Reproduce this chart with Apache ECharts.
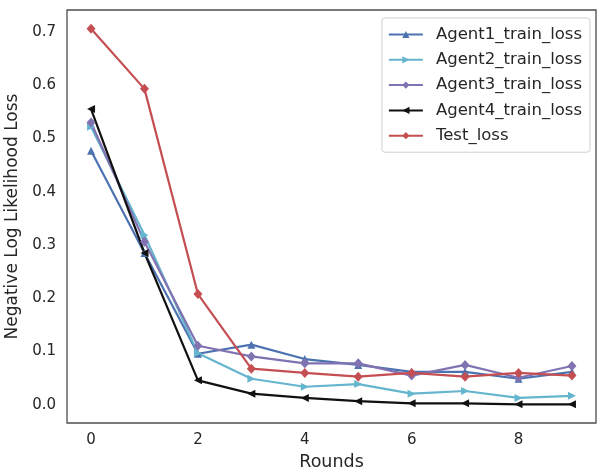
<!DOCTYPE html>
<html><head><meta charset="utf-8">
<script src="https://cdn.jsdelivr.net/npm/echarts@6/dist/echarts.min.js"></script>
<style>html,body{margin:0;padding:0;background:#fff}#c{width:597px;height:469px}</style>
</head><body><div id="c"></div>
<script>
const rounds = [0,1,2,3,4,5,6,7,8,9];
const agent1 = [0.477,0.285,0.096,0.113,0.086,0.075,0.062,0.062,0.049,0.062];
const agent2 = [0.522,0.319,0.097,0.049,0.034,0.039,0.021,0.026,0.013,0.017];
const agent3 = [0.530,0.306,0.111,0.091,0.078,0.078,0.055,0.075,0.051,0.073];
const agent4 = [0.555,0.285,0.046,0.021,0.013,0.007,0.003,0.003,0.001,0.001];
const testLoss = [0.706,0.593,0.208,0.068,0.060,0.053,0.060,0.053,0.060,0.055];
const xTicks = [0,2,4,6,8];
const yTicks = [0,0.1,0.2,0.3,0.4,0.5,0.6,0.7];
const names = ['Agent1_train_loss','Agent2_train_loss','Agent3_train_loss','Agent4_train_loss','Test_loss'];

const chart = echarts.init(document.getElementById('c'));
const font = 'DejaVu Sans';
function mk(name, data, color, symbol, rot, size){
  return {name, type:'line', data: rounds.map((r,i)=>[r,data[i]]),
    lineStyle:{color, width:2.2}, itemStyle:{color},
    symbol, symbolRotate:rot, symbolSize:size, showSymbol:true, animation:false};
}
chart.setOption({
  animation:false,
  grid:{left:67,top:10,right:1,bottom:46,show:true,borderColor:'#4d4d4d',borderWidth:1.3,backgroundColor:'#fff',
    containLabel:false,outerBoundsMode:'none'},
  xAxis:{type:'value',min:-0.45,max:9.45,
    name:'Rounds',nameLocation:'middle',nameGap:30,
    nameTextStyle:{fontFamily:font,fontSize:17.5,color:'#262626'},
    axisLine:{show:false},axisTick:{show:false},splitLine:{show:false},
    axisLabel:{customValues:xTicks,fontFamily:font,fontSize:15,color:'#262626',margin:10,formatter:v=>String(v)}},
  yAxis:{type:'value',min:-0.034,max:0.741,
    name:'Negative Log Likelihood Loss',nameLocation:'middle',nameGap:41,
    nameTextStyle:{fontFamily:font,fontSize:17,color:'#262626'},
    axisLine:{show:false},axisTick:{show:false},splitLine:{show:false},
    axisLabel:{customValues:yTicks,fontFamily:font,fontSize:15,color:'#262626',margin:11,formatter:v=>v.toFixed(1)}},
  legend:{data:names,orient:'vertical',right:7,top:18,itemWidth:34,itemHeight:9,itemGap:8.3,
    borderColor:'#d0d0d0',borderWidth:1,borderRadius:3,padding:[8,8,8,6],
    textStyle:{fontFamily:font,fontSize:16.5,color:'#262626',padding:[0,0,0,8]}},
  series:[
    mk(names[0],agent1,'#4C72B0','triangle',0,8),
    mk(names[1],agent2,'#64B5CD','triangle',-90,8),
    mk(names[2],agent3,'#8172B2','diamond',0,[9,10]),
    mk(names[3],agent4,'#111111','triangle',90,8),
    mk(names[4],testLoss,'#C44E52','diamond',0,[9,10])
  ]
});
</script></body></html>
